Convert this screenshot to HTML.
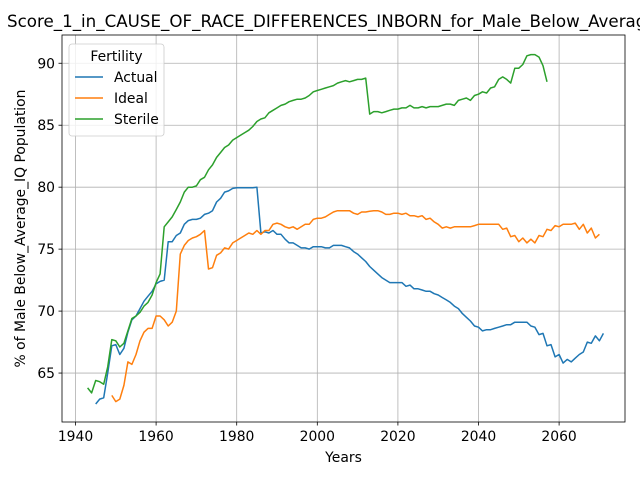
<!DOCTYPE html>
<html><head><meta charset="utf-8"><style>
body{margin:0;background:#fff}
svg text{font-family:"DejaVu Sans","Liberation Sans",sans-serif;fill:#000}
</style></head><body>
<svg id="c" width="640" height="480" xmlns="http://www.w3.org/2000/svg"></svg>
<script>
const actualStart = 1945;
const actualValues = [62.5,62.9,63.0,65.0,67.2,67.3,66.5,67.0,68.3,69.3,69.6,70.2,70.8,71.2,71.6,72.2,72.4,72.5,75.6,75.6,76.1,76.3,77.0,77.3,77.4,77.4,77.5,77.8,77.9,78.1,78.8,79.1,79.6,79.7,79.9,79.95,79.95,79.95,79.95,79.95,80.0,76.3,76.4,76.3,76.5,76.2,76.2,75.8,75.5,75.5,75.3,75.1,75.1,75.0,75.2,75.2,75.2,75.1,75.1,75.3,75.3,75.3,75.2,75.1,74.8,74.6,74.3,74.0,73.6,73.3,73.0,72.7,72.5,72.3,72.3,72.3,72.3,72.0,72.1,71.8,71.8,71.7,71.6,71.6,71.4,71.3,71.1,70.9,70.7,70.4,70.2,69.8,69.5,69.2,68.8,68.7,68.4,68.5,68.5,68.6,68.7,68.8,68.9,68.9,69.1,69.1,69.1,69.1,68.8,68.7,68.1,68.2,67.2,67.3,66.3,66.5,65.8,66.1,65.9,66.2,66.5,66.7,67.5,67.4,68.0,67.6,68.2];
const idealStart = 1949;
const idealValues = [63.2,62.7,62.9,64.0,65.9,65.7,66.5,67.6,68.3,68.6,68.6,69.6,69.6,69.3,68.8,69.1,70.0,74.6,75.3,75.7,75.9,76.0,76.2,76.5,73.4,73.5,74.5,74.7,75.1,75.0,75.5,75.7,75.9,76.1,76.3,76.2,76.5,76.2,76.5,76.5,77.0,77.1,77.0,76.8,76.7,76.8,76.6,76.8,77.0,77.0,77.4,77.5,77.5,77.6,77.8,78.0,78.1,78.1,78.1,78.1,77.9,77.8,78.0,78.0,78.05,78.1,78.1,78.0,77.8,77.8,77.9,77.9,77.8,77.9,77.7,77.7,77.6,77.7,77.4,77.5,77.2,77.0,76.7,76.8,76.7,76.8,76.8,76.8,76.8,76.8,76.9,77.0,77.0,77.0,77.0,77.0,77.0,76.6,76.7,76.0,76.1,75.6,75.9,75.5,75.8,75.5,76.1,76.0,76.6,76.5,76.9,76.8,77.0,77.0,77.0,77.1,76.6,77.0,76.3,76.7,75.9,76.2];
const sterileStart = 1943;
const sterileValues = [63.8,63.4,64.4,64.3,64.1,65.5,67.7,67.6,67.1,67.4,68.4,69.4,69.6,69.9,70.4,70.7,71.3,72.3,73.0,76.8,77.2,77.6,78.2,78.8,79.6,80.0,80.0,80.1,80.6,80.8,81.4,81.8,82.4,82.8,83.2,83.4,83.8,84.0,84.2,84.4,84.6,84.9,85.3,85.5,85.6,86.0,86.2,86.4,86.6,86.7,86.9,87.0,87.1,87.1,87.2,87.4,87.7,87.8,87.9,88.0,88.1,88.2,88.4,88.5,88.6,88.5,88.6,88.7,88.7,88.8,85.9,86.1,86.1,86.0,86.1,86.2,86.3,86.3,86.4,86.4,86.6,86.4,86.4,86.5,86.4,86.5,86.5,86.5,86.6,86.7,86.7,86.6,87.0,87.1,87.2,87.0,87.4,87.5,87.7,87.6,88.0,88.1,88.7,88.9,88.7,88.4,89.6,89.6,89.9,90.6,90.7,90.7,90.5,89.8,88.5];
const xTicks = [1940,1960,1980,2000,2020,2040,2060];
const yTicks = [65,70,75,80,85,90];
const seriesNames = ["Actual","Ideal","Sterile"];
const seriesColors = ["#1f77b4","#ff7f0e","#2ca02c"];

const L=62,R=625,T=35,B=422;
const X0=1936.65,X1=2076.35,Y0=61.05,Y1=92.28;
const sx=v=>L+(v-X0)/(X1-X0)*(R-L);
const sy=v=>B-(v-Y0)/(Y1-Y0)*(B-T);
const svg=document.getElementById('c');
const NS='http://www.w3.org/2000/svg';
function mk(t,a,p){const e=document.createElementNS(NS,t);for(const k in a)e.setAttribute(k,a[k]);(p||svg).appendChild(e);return e;}

const title=mk('text',{x:7,y:27,'font-size':16.7});
title.textContent='Score_1_in_CAUSE_OF_RACE_DIFFERENCES_INBORN_for_Male_Below_Average_IQ Population';



const grid=mk('g',{});


xTicks.forEach(t=>{
  const x=sx(t);
  mk('line',{x1:x,x2:x,y1:T,y2:B,stroke:'#b0b0b0','stroke-width':0.8},grid);
  mk('line',{x1:x,x2:x,y1:B,y2:B+3.5,stroke:'#000','stroke-width':0.8});
  const tx=mk('text',{x:x,y:B+19,'font-size':13.9,'text-anchor':'middle'});
  tx.textContent=t;
  
  
});
yTicks.forEach(t=>{
  const y=sy(t);
  mk('line',{x1:L,x2:R,y1:y,y2:y,stroke:'#b0b0b0','stroke-width':0.8},grid);
  mk('line',{x1:L-3.5,x2:L,y1:y,y2:y,stroke:'#000','stroke-width':0.8});
  const tx=mk('text',{x:L-7,y:y+5,'font-size':13.9,'text-anchor':'end'});
  tx.textContent=t;
  
  
});

const all=[[actualStart,actualValues],[idealStart,idealValues],[sterileStart,sterileValues]];
all.forEach((s,i)=>{
  const pts=s[1].map((v,k)=>sx(s[0]+k).toFixed(1)+','+sy(v).toFixed(1)).join(' ');
  const pl=mk('polyline',{points:pts,fill:'none',stroke:seriesColors[i],'stroke-width':1.5,'stroke-linejoin':'round'});
  
  
});

const frame=mk('rect',{x:L,y:T,width:R-L,height:B-T,fill:'none',stroke:'#000','stroke-width':0.8});



const xl=mk('text',{x:(L+R)/2,y:462,'font-size':13.9,'text-anchor':'middle'});
xl.textContent='Years';


const yl=mk('text',{x:0,y:0,'font-size':13.9,'text-anchor':'middle',transform:'translate(25,'+((T+B)/2)+') rotate(-90)'});
yl.textContent='% of Male Below_Average_IQ Population';



const lg=mk('g',{});


mk('rect',{x:69,y:44,width:95,height:92,rx:3,fill:'#fff','fill-opacity':0.8,stroke:'#ccc','stroke-width':0.8},lg);
const lt=mk('text',{x:116.5,y:61,'font-size':13.9,'text-anchor':'middle'},lg);
lt.textContent='Fertility';


seriesNames.forEach((n,i)=>{
  const y=77+i*21;
  const g=mk('g',{},lg);
  
  
  mk('line',{x1:75,x2:103,y1:y,y2:y,stroke:seriesColors[i],'stroke-width':1.5},g);
  const t=mk('text',{x:114,y:y+5,'font-size':13.9},g);
  t.textContent=n;
});
</script>
</body></html>
